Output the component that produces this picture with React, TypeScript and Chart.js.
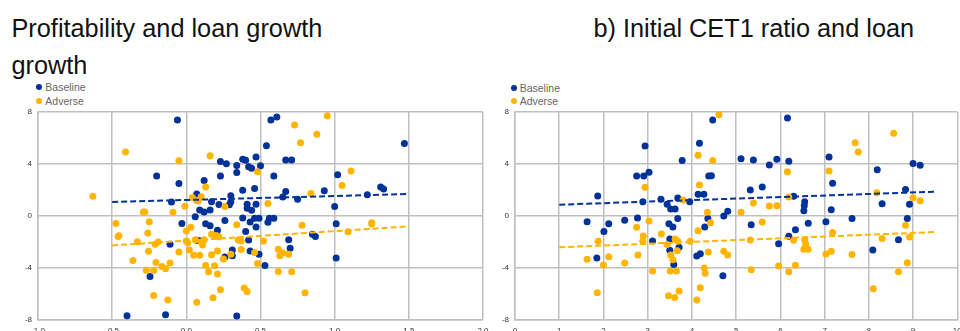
import React, { useEffect, useRef } from "react";
import { Chart, registerables } from "chart.js";

Chart.register(...registerables);

const BLUE = "#003299";
const ORANGE = "#ffb400";
const GRID = "#c0c0c0";
const TICK = "#333333";
const FONT = "'Liberation Sans', Arial, sans-serif";

// ---- Panel a) Profitability and loan growth ----
const leftBaseline: [number, number][] = [
  [-0.06, 7.38], [-0.2, 3.08], [-0.05, 2.5], [-0.1, 1.08], [-0.03, -0.58], [-0.11, -2.18],
  [-0.245, -4.65], [-0.4, -7.67], [-0.14, -7.6], [0.34, -7.7], [0.23, 4.2], [0.27, 4.02],
  [0.23, 3.08], [0.12, 2.74], [0.07, 1.7], [0.17, 1.1], [0.22, 0.89], [0.3, 1.56],
  [0.3, 1.1], [0.29, 0.87], [0.09, 0.47], [0.12, 0.31], [0.16, 0.47], [0.06, -0.05],
  [0.13, -0.6], [0.16, -0.75], [0.26, -0.34], [0.21, -1.1], [0.07, -1.87], [0.09, -1.9],
  [0.31, -2.62], [0.31, -3.05], [0.26, -3.15], [0.38, 4.36], [0.4, 4.28], [0.47, 4.54],
  [0.34, 3.88], [0.42, 3.79], [0.44, 3.67], [0.5, 3.87], [0.34, 3.34], [0.59, 3.08],
  [0.38, 1.98], [0.46, 2.12], [0.57, 7.38], [0.61, 7.62], [0.54, 5.41], [0.67, 4.31],
  [0.71, 4.31], [1.47, 5.58], [1.02, 3.18], [0.67, 1.89], [0.65, 1.46], [0.75, 1.28],
  [0.93, 1.95], [1.22, 1.64], [1.31, 2.23], [1.33, 2.08], [0.41, 0.9], [0.41, 0.6],
  [0.44, 0.44], [0.47, 0.9], [1.0, 0.74], [0.38, -0.16], [0.46, -0.18], [0.49, -0.18],
  [0.56, -0.18], [0.59, -0.18], [0.55, -0.49], [0.43, -0.47], [0.47, -0.85], [0.4, -1.2],
  [1.01, -0.59], [0.42, -1.85], [0.69, -1.82], [0.85, -1.41], [0.87, -1.57], [0.7, -2.49],
  [0.43, -2.69], [0.49, -2.95], [0.53, -3.8], [1.01, -3.23],
];

const leftAdverse: [number, number][] = [
  [-0.63, 1.52], [-0.41, 4.92], [-0.05, 4.25], [0.16, 4.64], [0.13, 2.23], [-0.01, 0.75],
  [-0.09, 0.29], [-0.29, 0.3], [-0.28, 0.3], [0.04, 1.43], [0.07, 1.2], [0.1, 1.48],
  [0.08, 1.15], [0.26, 0.73], [-0.475, -0.57], [-0.25, -0.45], [-0.455, -1.52], [-0.46, -1.57],
  [-0.26, -1.31], [-0.33, -1.98], [-0.21, -2.18], [-0.19, -2.0], [-0.255, -2.72], [-0.36, -3.42],
  [-0.05, -2.76], [0.0, -1.92], [0.01, -2.05], [0.02, -2.62], [0.0, -1.15], [0.03, -0.87],
  [0.05, -3.02], [0.09, -3.02], [0.06, -1.82], [0.1, -2.0], [0.11, -2.23], [0.12, -1.82],
  [0.17, -2.98], [0.17, -1.41], [0.2, -1.5], [0.22, -1.59], [0.21, -2.69], [0.25, -3.3],
  [0.3, -2.95], [0.34, -0.68], [0.35, -1.85], [0.37, -1.92], [0.37, -2.57], [0.13, -3.8],
  [0.19, -3.82], [0.15, -4.28], [0.21, -4.46], [-0.27, -4.18], [-0.22, -4.2], [-0.205, -3.58],
  [-0.165, -3.88], [-0.14, -4.05], [-0.11, -3.62], [-0.22, -6.12], [-0.125, -6.46], [0.07, -6.64],
  [0.23, -5.67], [0.18, -6.28], [0.39, -5.54], [0.41, -5.8], [0.95, 7.72], [0.73, 7.0],
  [0.88, 6.28], [0.77, 5.64], [0.48, 3.41], [1.11, 3.46], [1.05, 2.35], [0.84, 1.74],
  [0.55, 0.97], [0.78, -0.72], [1.25, -0.52], [1.25, -0.62], [1.09, -1.21], [0.46, -2.8],
  [0.52, -1.92], [0.62, -2.56], [0.63, -3.05], [0.65, -2.85], [0.69, -2.95], [0.48, -3.66],
  [0.62, -4.26], [0.71, -4.28], [0.8, -5.9],
];

const leftBaselineTrend: [number, number][] = [[-0.5, 1.08], [1.5, 1.69]];
const leftAdverseTrend: [number, number][] = [[-0.5, -2.26], [1.5, -0.8]];

// ---- Panel b) Initial CET1 ratio and loan growth ----
const rightBaseline: [number, number][] = [
  [1.63, -0.44], [1.87, 1.54], [2.01, -1.2], [2.12, -0.59], [1.85, -3.23], [2.48, -0.33],
  [2.77, -0.15], [2.75, 3.08], [2.91, 3.08], [2.94, 5.38], [3.03, 3.36], [2.89, 1.1],
  [3.11, -1.92], [3.3, 1.28], [3.44, 0.9], [3.52, 0.54], [3.62, 0.54], [3.68, 1.38],
  [3.68, -0.2], [3.48, -0.59], [3.57, -0.85], [3.5, -1.77], [3.5, -2.64], [3.71, -2.41],
  [3.59, -3.74], [3.95, 1.1], [3.78, 4.26], [4.17, 5.59], [4.47, 7.38], [4.14, 1.67],
  [4.27, 1.67], [4.36, -0.2], [4.29, -0.85], [4.38, 3.08], [4.44, 3.1], [4.11, -3.08],
  [4.19, -2.9], [4.72, 0.0], [4.81, 0.36], [4.7, -4.6], [6.16, 7.54], [5.11, 4.41],
  [5.39, 4.31], [5.75, 3.92], [5.92, 4.36], [6.19, 4.21], [7.1, 4.54], [7.18, 2.51],
  [8.19, 3.56], [9.0, 4.03], [9.16, 3.9], [5.32, 2.0], [5.59, 2.23], [6.3, 1.51],
  [6.55, 1.1], [6.54, 0.79], [6.53, 0.41], [7.15, 0.49], [8.3, 0.95], [8.83, 2.03],
  [8.92, 0.9], [8.87, -0.2], [5.34, -0.67], [5.96, -2.13], [6.19, -1.56], [6.34, -1.05],
  [6.63, -0.56], [7.03, -0.44], [7.62, -0.2], [8.09, -2.62], [8.67, -1.82],
];

const rightAdverse: [number, number][] = [
  [1.63, -3.33], [1.86, -5.9], [1.88, -1.95], [2.0, -3.77], [2.12, -3.13], [2.48, -3.62],
  [2.75, -0.87], [2.78, -3.0], [2.94, 2.21], [2.9, -1.54], [2.89, -1.95], [3.03, -0.38],
  [3.11, -4.23], [3.31, -1.38], [3.44, -2.2], [3.52, -3.0], [3.57, -3.36], [3.51, -4.23],
  [3.47, -6.13], [3.61, -6.26], [3.65, -4.23], [3.71, -5.77], [3.62, -1.77], [3.68, -1.95],
  [3.67, -2.67], [3.8, 1.23], [3.96, -1.95], [4.14, 4.67], [4.17, 2.38], [4.14, -1.13],
  [4.47, 4.26], [4.35, 0.28], [4.37, -2.77], [4.42, -0.51], [4.28, -4.0], [4.3, -4.41],
  [4.19, -5.51], [4.11, -6.46], [4.61, 7.79], [4.72, -2.72], [4.81, -3.0], [5.11, 0.28],
  [5.39, 1.0], [5.75, 0.77], [5.92, 0.79], [6.16, 3.41], [6.19, 1.46], [5.59, -0.46],
  [5.32, -1.85], [6.3, -1.87], [6.55, -1.8], [6.57, -2.13], [6.53, -2.56], [6.63, -2.56],
  [5.34, -4.13], [5.96, -3.85], [6.19, -4.28], [6.34, -3.79], [7.1, 3.46], [7.18, -1.26],
  [7.03, -2.92], [7.15, -2.72], [7.62, -2.97], [7.69, 5.64], [7.76, 4.92], [8.56, 6.36],
  [8.18, 1.79], [9.0, 1.41], [9.16, 1.18], [8.83, -0.72], [8.3, -1.74], [8.92, -1.62],
  [8.87, -3.59], [8.67, -4.28], [8.1, -5.59],
];

const rightBaselineTrend: [number, number][] = [[1, 0.87], [9.5, 1.87]];
const rightAdverseTrend: [number, number][] = [[1, -2.41], [9.5, -1.23]];

// axis ranges / tick labels
const leftXRange = [-1, 2];
const leftXStep = 0.5;
const rightXRange = [0, 10];
const rightXStep = 1;
const yRange = [-8, 8];
const yStep = 4;

const seriesNames = ["Baseline", "Adverse"];

type PanelProps = {
  left: number;
  top: number;
  width: number;
  height: number;
  yAxisWidth: number;
  padTop: number;
  padRight: number;
  xRange: number[];
  xStep: number;
  xDecimals: number;
  base: [number, number][];
  adv: [number, number][];
  baseTrend: [number, number][];
  advTrend: [number, number][];
};

const toXY = (arr: [number, number][]) => arr.map(([x, y]) => ({ x, y }));

function ScatterPanel(p: PanelProps) {
  const ref = useRef<HTMLCanvasElement>(null);
  useEffect(() => {
    if (!ref.current) return;
    const tickFont = { family: FONT, size: 8 };
    const chart = new Chart(ref.current, {
      type: "scatter",
      data: {
        datasets: [
          {
            label: seriesNames[0] + " trend",
            data: toXY(p.baseTrend),
            showLine: true,
            borderColor: BLUE,
            backgroundColor: BLUE,
            borderWidth: 2,
            borderDash: [6, 3],
            pointRadius: 0,
            fill: false,
            order: 0,
          },
          {
            label: seriesNames[1] + " trend",
            data: toXY(p.advTrend),
            showLine: true,
            borderColor: ORANGE,
            backgroundColor: ORANGE,
            borderWidth: 2,
            borderDash: [6, 3],
            pointRadius: 0,
            fill: false,
            order: 0,
          },
          {
            label: seriesNames[1],
            data: toXY(p.adv),
            backgroundColor: ORANGE,
            borderWidth: 0,
            pointRadius: 3.5,
            order: 1,
          },
          {
            label: seriesNames[0],
            data: toXY(p.base),
            backgroundColor: BLUE,
            borderWidth: 0,
            pointRadius: 3.5,
            order: 2,
          },
        ],
      } as any,
      options: {
        responsive: false,
        animation: false,
        events: [],
        layout: { padding: { top: p.padTop, right: p.padRight, left: 0, bottom: 0 } },
        plugins: {
          legend: { display: false },
          tooltip: { enabled: false },
          title: { display: false },
        },
        scales: {
          x: {
            type: "linear",
            min: p.xRange[0],
            max: p.xRange[1],
            ticks: {
              stepSize: p.xStep,
              autoSkip: false,
              maxRotation: 0,
              padding: 6,
              color: TICK,
              font: tickFont,
              callback: (v: any) => Number(v).toFixed(p.xDecimals),
            },
            grid: { color: GRID, lineWidth: 1.5, drawTicks: false },
            border: { color: GRID, width: 1.5 },
            afterFit: (s: any) => {
              s.height = 20;
            },
          },
          y: {
            type: "linear",
            min: yRange[0],
            max: yRange[1],
            ticks: {
              stepSize: yStep,
              padding: 6,
              color: TICK,
              font: tickFont,
              callback: (v: any) => String(v),
            },
            grid: { color: GRID, lineWidth: 1.5, drawTicks: false },
            border: { color: GRID, width: 1.5 },
            afterFit: (s: any) => {
              s.width = p.yAxisWidth;
            },
          },
        },
      } as any,
    });
    return () => chart.destroy();
  }, []);
  return (
    <canvas
      ref={ref}
      width={p.width}
      height={p.height}
      style={{ position: "absolute", left: p.left, top: p.top, width: p.width, height: p.height }}
    />
  );
}

function Legend({ x, y, gap }: { x: number; y: number; gap: number }) {
  const colors = [BLUE, ORANGE];
  return (
    <>
      {seriesNames.map((name, i) => (
        <div key={name}>
          <div
            style={{
              position: "absolute",
              left: x - 3,
              top: y + i * gap - 3,
              width: 6,
              height: 6,
              borderRadius: 3,
              background: colors[i],
            }}
          />
          <div
            style={{
              position: "absolute",
              left: x + 6,
              top: y + i * gap - 7,
              height: 14,
              lineHeight: "14px",
              fontFamily: FONT,
              fontSize: 10.5,
              color: "#666666",
              whiteSpace: "nowrap",
            }}
          >
            {name}
          </div>
        </div>
      ))}
    </>
  );
}

export default function App() {
  const titleStyle: React.CSSProperties = {
    position: "absolute",
    fontFamily: FONT,
    fontSize: 25.3,
    lineHeight: "36.7px",
    color: "#111111",
    whiteSpace: "nowrap",
  };
  return (
    <div
      style={{
        position: "absolute",
        left: 0,
        top: 0,
        width: 960,
        height: 331,
        overflow: "hidden",
        background: "#ffffff",
      }}
    >
      <div style={{ ...titleStyle, left: 11.5, top: 10 }}>
        Profitability and loan growth
        <br />
        growth
      </div>
      <div style={{ ...titleStyle, left: 593.5, top: 10 }}>b) Initial CET1 ratio and loan</div>
      <Legend x={39.3} y={86.7} gap={14} />
      <Legend x={513.7} y={87.7} gap={13} />
      <ScatterPanel
        left={0}
        top={100}
        width={500}
        height={240}
        yAxisWidth={38}
        padTop={12}
        padRight={17}
        xRange={leftXRange}
        xStep={leftXStep}
        xDecimals={1}
        base={leftBaseline}
        adv={leftAdverse}
        baseTrend={leftBaselineTrend}
        advTrend={leftAdverseTrend}
      />
      <ScatterPanel
        left={470}
        top={100}
        width={500}
        height={240}
        yAxisWidth={45}
        padTop={12}
        padRight={12.7}
        xRange={rightXRange}
        xStep={rightXStep}
        xDecimals={0}
        base={rightBaseline}
        adv={rightAdverse}
        baseTrend={rightBaselineTrend}
        advTrend={rightAdverseTrend}
      />
    </div>
  );
}
